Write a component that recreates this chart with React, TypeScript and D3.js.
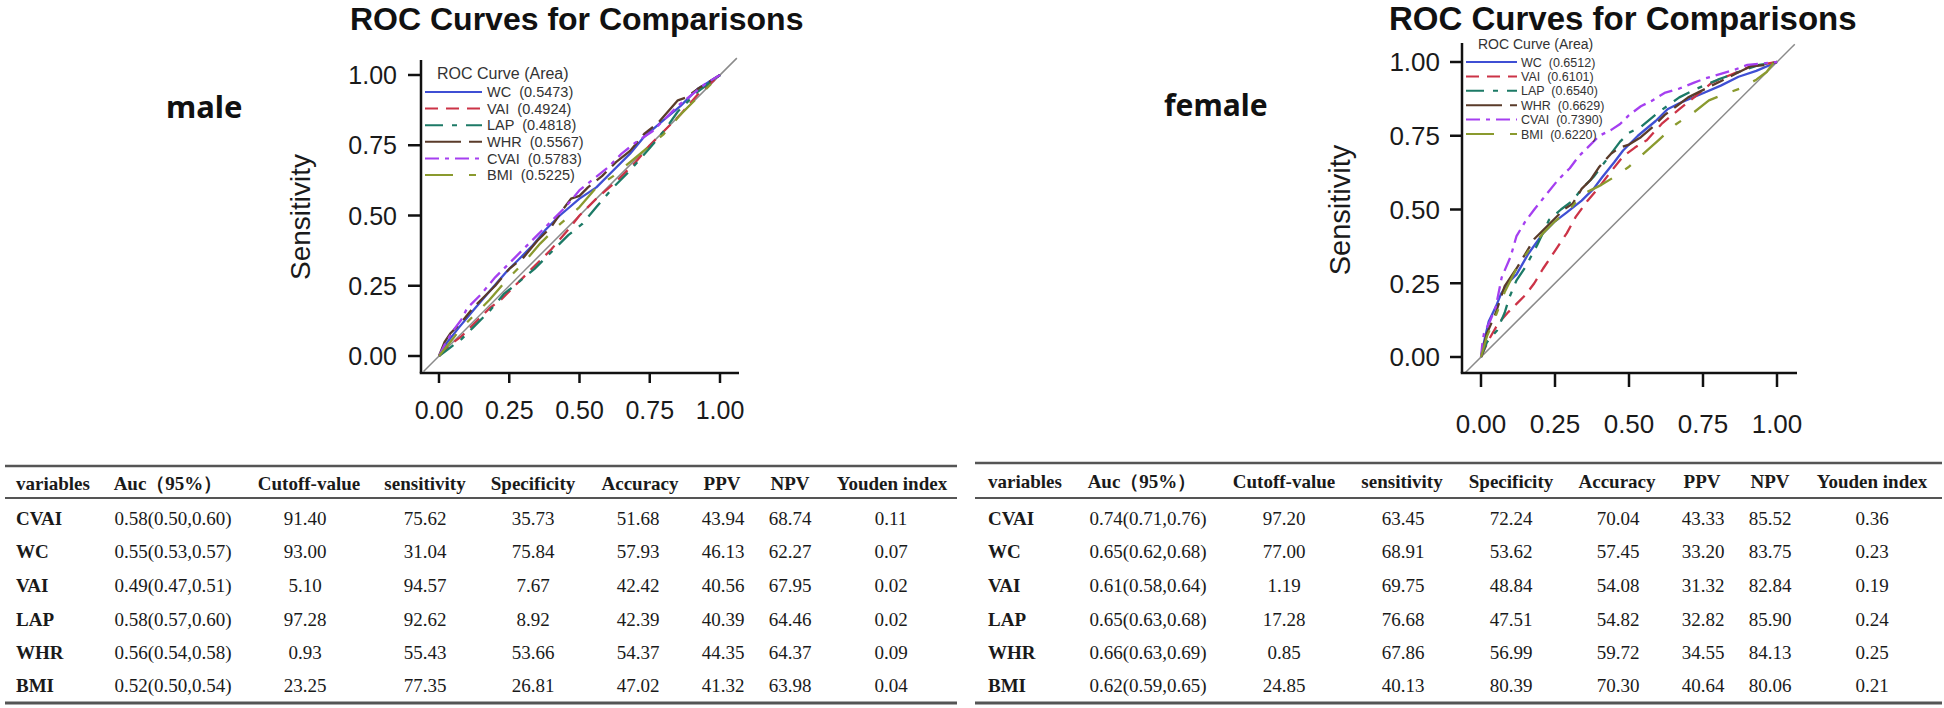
import React from "react";
import * as d3 from "d3";

// ---------- data ----------
const seriesNames = ["WC", "VAI", "LAP", "WHR", "CVAI", "BMI"];
const seriesColors = ["#3f4fd4", "#cc3347", "#1c7a66", "#5a3b2a", "#a53ff0", "#8a9a2e"];
const seriesDashes = ["none", "13 8", "18 9 5 9", "36 8 13 8", "14 6 4 6", "28 16 7 16"];

const maleAreas = ["0.5473", "0.4924", "0.4818", "0.5567", "0.5783", "0.5225"];
const femaleAreas = ["0.6512", "0.6101", "0.6540", "0.6629", "0.7390", "0.6220"];

const maleWC = [[0,0],[0.03,0.05],[0.07,0.1],[0.12,0.16],[0.18,0.23],[0.24,0.3],[0.28,0.34],[0.33,0.39],[0.38,0.45],[0.43,0.5],[0.5,0.56],[0.56,0.6],[0.62,0.66],[0.68,0.72],[0.73,0.78],[0.8,0.84],[0.86,0.89],[0.92,0.95],[1,1]];
const maleVAI = [[0,0],[0.04,0.04],[0.08,0.07],[0.12,0.11],[0.18,0.17],[0.22,0.2],[0.28,0.26],[0.34,0.32],[0.4,0.38],[0.46,0.45],[0.5,0.5],[0.56,0.56],[0.63,0.62],[0.7,0.69],[0.75,0.75],[0.8,0.8],[0.86,0.86],[0.92,0.93],[1,1]];
const maleLAP = [[0,0],[0.04,0.03],[0.08,0.06],[0.12,0.1],[0.18,0.16],[0.23,0.22],[0.28,0.26],[0.34,0.31],[0.4,0.37],[0.46,0.43],[0.51,0.47],[0.56,0.53],[0.62,0.6],[0.68,0.66],[0.75,0.74],[0.8,0.8],[0.85,0.87],[0.92,0.94],[1,1]];
const maleWHR = [[0,0],[0.02,0.05],[0.04,0.08],[0.08,0.12],[0.12,0.17],[0.16,0.21],[0.2,0.25],[0.25,0.31],[0.3,0.35],[0.35,0.41],[0.4,0.46],[0.44,0.52],[0.47,0.56],[0.5,0.57],[0.53,0.6],[0.58,0.64],[0.63,0.69],[0.68,0.73],[0.73,0.79],[0.78,0.83],[0.85,0.91],[0.88,0.92],[0.92,0.95],[1,1]];
const maleCVAI = [[0,0],[0.02,0.04],[0.05,0.09],[0.08,0.13],[0.1,0.17],[0.15,0.22],[0.2,0.28],[0.25,0.33],[0.3,0.38],[0.35,0.43],[0.4,0.48],[0.45,0.53],[0.5,0.59],[0.55,0.63],[0.6,0.67],[0.65,0.72],[0.7,0.76],[0.76,0.8],[0.8,0.84],[0.85,0.89],[0.9,0.93],[0.95,0.97],[1,1]];
const maleBMI = [[0,0],[0.04,0.05],[0.08,0.1],[0.12,0.14],[0.18,0.2],[0.24,0.27],[0.3,0.33],[0.36,0.4],[0.42,0.46],[0.5,0.53],[0.56,0.6],[0.62,0.64],[0.68,0.69],[0.74,0.74],[0.8,0.79],[0.86,0.86],[0.93,0.93],[1,1]];

const femaleWC = [[0,0],[0.01,0.05],[0.026,0.12],[0.05,0.17],[0.068,0.215],[0.09,0.25],[0.12,0.28],[0.16,0.35],[0.21,0.42],[0.25,0.46],[0.29,0.49],[0.34,0.53],[0.38,0.57],[0.41,0.61],[0.45,0.66],[0.48,0.7],[0.53,0.75],[0.59,0.8],[0.63,0.84],[0.67,0.86],[0.74,0.89],[0.81,0.92],[0.87,0.95],[0.93,0.97],[1,1]];
const femaleVAI = [[0,0],[0.026,0.058],[0.05,0.1],[0.068,0.125],[0.09,0.15],[0.12,0.18],[0.15,0.21],[0.18,0.25],[0.21,0.3],[0.25,0.36],[0.29,0.42],[0.32,0.475],[0.36,0.53],[0.4,0.577],[0.44,0.63],[0.48,0.68],[0.52,0.71],[0.56,0.735],[0.61,0.79],[0.67,0.84],[0.72,0.88],[0.78,0.93],[0.84,0.955],[0.91,0.985],[1,1]];
const femaleLAP = [[0,0],[0.02,0.05],[0.054,0.09],[0.08,0.15],[0.095,0.2],[0.12,0.26],[0.15,0.305],[0.19,0.38],[0.23,0.465],[0.27,0.5],[0.31,0.53],[0.34,0.57],[0.38,0.61],[0.425,0.67],[0.47,0.73],[0.5,0.76],[0.54,0.78],[0.6,0.83],[0.67,0.88],[0.73,0.91],[0.8,0.94],[0.88,0.97],[0.94,0.99],[1,1]];
const femaleWHR = [[0,0],[0.02,0.08],[0.05,0.15],[0.08,0.24],[0.12,0.3],[0.15,0.35],[0.18,0.4],[0.23,0.45],[0.28,0.5],[0.31,0.52],[0.34,0.57],[0.37,0.6],[0.4,0.645],[0.44,0.69],[0.47,0.71],[0.5,0.72],[0.54,0.745],[0.58,0.78],[0.62,0.82],[0.66,0.85],[0.7,0.88],[0.76,0.91],[0.81,0.935],[0.86,0.96],[0.91,0.985],[0.96,0.99],[1,1]];
const femaleCVAI = [[0,0],[0.005,0.05],[0.01,0.08],[0.03,0.12],[0.05,0.17],[0.07,0.27],[0.1,0.34],[0.12,0.41],[0.15,0.46],[0.18,0.5],[0.22,0.55],[0.26,0.6],[0.3,0.64],[0.33,0.68],[0.37,0.72],[0.4,0.75],[0.44,0.77],[0.47,0.79],[0.5,0.82],[0.54,0.85],[0.58,0.87],[0.62,0.895],[0.67,0.91],[0.72,0.93],[0.76,0.945],[0.81,0.96],[0.86,0.975],[0.9,0.99],[0.95,0.995],[1,1]];
const femaleBMI = [[0,0],[0.02,0.07],[0.05,0.14],[0.08,0.22],[0.12,0.3],[0.16,0.36],[0.21,0.42],[0.25,0.46],[0.3,0.5],[0.34,0.55],[0.4,0.58],[0.45,0.61],[0.5,0.645],[0.55,0.69],[0.6,0.735],[0.66,0.79],[0.72,0.83],[0.77,0.87],[0.82,0.89],[0.875,0.91],[0.93,0.94],[0.965,0.966],[0.99,1],[1,1]];

const maleCurves = [maleWC, maleVAI, maleLAP, maleWHR, maleCVAI, maleBMI];
const femaleCurves = [femaleWC, femaleVAI, femaleLAP, femaleWHR, femaleCVAI, femaleBMI];

const axisTicks = [0, 0.25, 0.5, 0.75, 1];
const tickLabels = ["0.00", "0.25", "0.50", "0.75", "1.00"];

const tableHeaders = ["variables", "Auc（95%）", "Cutoff-value", "sensitivity", "Specificity", "Accuracy", "PPV", "NPV", "Youden index"];
const tableVars = ["CVAI", "WC", "VAI", "LAP", "WHR", "BMI"];

const maleAuc = ["0.58(0.50,0.60)", "0.55(0.53,0.57)", "0.49(0.47,0.51)", "0.58(0.57,0.60)", "0.56(0.54,0.58)", "0.52(0.50,0.54)"];
const maleCutoff = ["91.40", "93.00", "5.10", "97.28", "0.93", "23.25"];
const maleSens = ["75.62", "31.04", "94.57", "92.62", "55.43", "77.35"];
const maleSpec = ["35.73", "75.84", "7.67", "8.92", "53.66", "26.81"];
const maleAcc = ["51.68", "57.93", "42.42", "42.39", "54.37", "47.02"];
const malePPV = ["43.94", "46.13", "40.56", "40.39", "44.35", "41.32"];
const maleNPV = ["68.74", "62.27", "67.95", "64.46", "64.37", "63.98"];
const maleYouden = ["0.11", "0.07", "0.02", "0.02", "0.09", "0.04"];

const femaleAuc = ["0.74(0.71,0.76)", "0.65(0.62,0.68)", "0.61(0.58,0.64)", "0.65(0.63,0.68)", "0.66(0.63,0.69)", "0.62(0.59,0.65)"];
const femaleCutoff = ["97.20", "77.00", "1.19", "17.28", "0.85", "24.85"];
const femaleSens = ["63.45", "68.91", "69.75", "76.68", "67.86", "40.13"];
const femaleSpec = ["72.24", "53.62", "48.84", "47.51", "56.99", "80.39"];
const femaleAcc = ["70.04", "57.45", "54.08", "54.82", "59.72", "70.30"];
const femalePPV = ["43.33", "33.20", "31.32", "32.82", "34.55", "40.64"];
const femaleNPV = ["85.52", "83.75", "82.84", "85.90", "84.13", "80.06"];
const femaleYouden = ["0.36", "0.23", "0.19", "0.24", "0.25", "0.21"];

const maleTableCols = [maleAuc, maleCutoff, maleSens, maleSpec, maleAcc, malePPV, maleNPV, maleYouden];
const femaleTableCols = [femaleAuc, femaleCutoff, femaleSens, femaleSpec, femaleAcc, femalePPV, femaleNPV, femaleYouden];

// ---------- layout ----------
const SANS = "'Liberation Sans', Arial, sans-serif";
const SERIF = "'Liberation Serif', 'Times New Roman', serif";

const malePanel = {
  label: "male", labelX: 166, labelY: 118, labelSize: 31,
  titleX: 350, titleY: 30, titleSize: 32,
  xr: [439, 720], yr: [356, 75],
  axisX: 421, axisY: 373, yTop: 60, xRight: 739,
  yTickLen: 13, xTickLen: 10, yLabRight: 397, xLabBase: 419, tickSize: 25,
  sensX: 300, sensY: 217, sensSize: 28,
  legHeadX: 437, legHeadY: 79, legHeadSize: 16,
  legLine: [425, 482], legTextX: 487, legRow0: 92, legStep: 16.6, legSize: 14.5,
  areas: maleAreas, curves: maleCurves,
};
const femalePanel = {
  label: "female", labelX: 1164, labelY: 116, labelSize: 30,
  titleX: 1389, titleY: 30, titleSize: 33,
  xr: [1481, 1777], yr: [357, 62],
  axisX: 1462, axisY: 373, yTop: 43, xRight: 1797,
  yTickLen: 12, xTickLen: 14, yLabRight: 1440, xLabBase: 433, tickSize: 26,
  sensX: 1340, sensY: 210, sensSize: 29,
  legHeadX: 1478, legHeadY: 49, legHeadSize: 14,
  legLine: [1466, 1517], legTextX: 1521, legRow0: 62, legStep: 14.4, legSize: 12.5,
  areas: femaleAreas, curves: femaleCurves,
};

const maleTable = {
  x0: 5, x1: 957, topY: 466, midY: 498, botY: 703, headBase: 490,
  hdrX: [16, 168, 309, 425, 533, 640, 722, 790, 892],
  valX: [16, 173, 305, 425, 533, 638, 723, 790, 891],
  cols: maleTableCols,
};
const femaleTable = {
  x0: 975, x1: 1942, topY: 463, midY: 498, botY: 703, headBase: 488,
  hdrX: [988, 1142, 1284, 1402, 1511, 1617, 1702, 1770, 1872],
  valX: [988, 1148, 1284, 1403, 1511, 1618, 1703, 1770, 1872],
  cols: femaleTableCols,
};
const rowBase = [525, 558, 592, 626, 659, 692];

function RocPanel({ p }: { p: any }) {
  const x = d3.scaleLinear().domain([0, 1]).range(p.xr);
  const y = d3.scaleLinear().domain([0, 1]).range(p.yr);
  const line = d3.line<number[]>().x((d) => x(d[0])).y((d) => y(d[1]));
  return (
    <g>
      <text x={p.labelX} y={p.labelY} fontFamily="'Noto Sans', sans-serif" fontWeight={700} fontSize={p.labelSize} fill="#111">{p.label}</text>
      <text x={p.titleX} y={p.titleY} fontFamily={SANS} fontWeight={700} fontSize={p.titleSize} fill="#111">ROC Curves for Comparisons</text>
      {/* diagonal reference */}
      <line x1={x(-0.055)} y1={y(-0.055)} x2={x(1.06)} y2={y(1.06)} stroke="#8a8a8a" strokeWidth={1.5} />
      {/* curves */}
      {p.curves.map((c: number[][], i: number) => (
        <path key={i} d={line(c) || ""} fill="none" stroke={seriesColors[i]} strokeWidth={2.3}
          strokeDasharray={seriesDashes[i] === "none" ? undefined : seriesDashes[i]} strokeLinejoin="round" />
      ))}
      {/* axes */}
      <line x1={p.axisX} y1={p.yTop} x2={p.axisX} y2={p.axisY} stroke="#111" strokeWidth={2.5} />
      <line x1={p.axisX - 1.25} y1={p.axisY} x2={p.xRight} y2={p.axisY} stroke="#111" strokeWidth={2.5} />
      {axisTicks.map((t, i) => (
        <g key={"y" + i}>
          <line x1={p.axisX - p.yTickLen} x2={p.axisX} y1={y(t)} y2={y(t)} stroke="#111" strokeWidth={2.5} />
          <text x={p.yLabRight} y={y(t)} dy="0.36em" textAnchor="end" fontFamily={SANS} fontSize={p.tickSize} fill="#1a1a1a">{tickLabels[i]}</text>
        </g>
      ))}
      {axisTicks.map((t, i) => (
        <g key={"x" + i}>
          <line x1={x(t)} x2={x(t)} y1={p.axisY} y2={p.axisY + p.xTickLen} stroke="#111" strokeWidth={2.5} />
          <text x={x(t)} y={p.xLabBase} textAnchor="middle" fontFamily={SANS} fontSize={p.tickSize} fill="#1a1a1a">{tickLabels[i]}</text>
        </g>
      ))}
      <text transform={`translate(${p.sensX},${p.sensY}) rotate(-90)`} textAnchor="middle" dy="0.35em" fontFamily={SANS} fontSize={p.sensSize} fill="#1a1a1a">Sensitivity</text>
      {/* legend */}
      <text x={p.legHeadX} y={p.legHeadY} fontFamily={SANS} fontSize={p.legHeadSize} fill="#333">ROC Curve (Area)</text>
      {seriesNames.map((n, i) => {
        const ry = p.legRow0 + i * p.legStep;
        return (
          <g key={"l" + i}>
            <line x1={p.legLine[0]} x2={p.legLine[1]} y1={ry} y2={ry} stroke={seriesColors[i]} strokeWidth={2}
              strokeDasharray={seriesDashes[i] === "none" ? undefined : seriesDashes[i]} />
            <text x={p.legTextX} y={ry} dy="0.36em" fontFamily={SANS} fontSize={p.legSize} fill="#333" style={{ whiteSpace: "pre" }}>{`${n}  (${p.areas[i]})`}</text>
          </g>
        );
      })}
    </g>
  );
}

function StatTable({ t }: { t: any }) {
  return (
    <g fontFamily={SERIF} fill="#1a1a1a">
      <line x1={t.x0} x2={t.x1} y1={t.topY} y2={t.topY} stroke="#555" strokeWidth={2.5} />
      <line x1={t.x0} x2={t.x1} y1={t.midY} y2={t.midY} stroke="#555" strokeWidth={2} />
      <line x1={t.x0} x2={t.x1} y1={t.botY} y2={t.botY} stroke="#555" strokeWidth={3} />
      {tableHeaders.map((h, i) => (
        <text key={"h" + i} x={t.hdrX[i]} y={t.headBase} textAnchor={i === 0 ? "start" : "middle"} fontWeight={700} fontSize={19}>{h}</text>
      ))}
      {tableVars.map((v, r) => (
        <g key={"r" + r}>
          <text x={t.valX[0]} y={rowBase[r]} fontWeight={700} fontSize={19}>{v}</text>
          {t.cols.map((col: string[], c: number) => (
            <text key={c} x={t.valX[c + 1]} y={rowBase[r]} textAnchor="middle" fontSize={19}>{col[r]}</text>
          ))}
        </g>
      ))}
    </g>
  );
}

export default function App() {
  return (
    <svg width={1944} height={708} viewBox="0 0 1944 708"
      style={{ position: "absolute", left: 0, top: 0, display: "block", background: "#fff" }}>
      <rect x={0} y={0} width={1944} height={708} fill="#fff" />
      <RocPanel p={malePanel} />
      <RocPanel p={femalePanel} />
      <StatTable t={maleTable} />
      <StatTable t={femaleTable} />
    </svg>
  );
}
